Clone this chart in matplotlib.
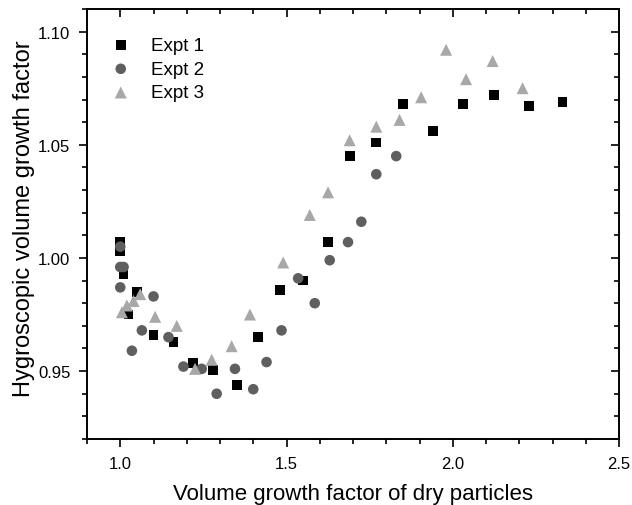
import matplotlib
matplotlib.use('Agg')
import matplotlib.pyplot as plt
from matplotlib.ticker import MultipleLocator, FormatStrFormatter

plt.rcParams['font.family'] = ['Liberation Sans', 'DejaVu Sans']

# Expt 1 (black squares)
x1 = [1.00, 1.00, 1.01, 1.025, 1.05, 1.10, 1.16, 1.22, 1.28, 1.35, 1.415,
      1.48, 1.55, 1.625, 1.69, 1.77, 1.85, 1.94, 2.03, 2.125, 2.23, 2.33]
y1 = [1.007, 1.003, 0.993, 0.975, 0.985, 0.966, 0.963, 0.9535, 0.9505, 0.944, 0.965,
      0.986, 0.990, 1.007, 1.045, 1.051, 1.068, 1.056, 1.068, 1.072, 1.067, 1.069]

# Expt 2 (dark grey circles)
x2 = [1.00, 1.00, 1.01, 1.00, 1.035, 1.065, 1.10, 1.145, 1.19, 1.245, 1.29,
      1.345, 1.40, 1.44, 1.485, 1.535, 1.585, 1.63, 1.685, 1.725, 1.77, 1.83]
y2 = [1.005, 0.996, 0.996, 0.987, 0.959, 0.968, 0.983, 0.965, 0.952, 0.951, 0.940,
      0.951, 0.942, 0.954, 0.968, 0.991, 0.980, 0.999, 1.007, 1.016, 1.037, 1.045]

# Expt 3 (light grey triangles)
x3 = [1.005, 1.02, 1.04, 1.06, 1.105, 1.17, 1.225, 1.275, 1.335, 1.39, 1.49,
      1.57, 1.625, 1.69, 1.77, 1.84, 1.905, 1.98, 2.04, 2.12, 2.21]
y3 = [0.976, 0.979, 0.981, 0.984, 0.974, 0.970, 0.951, 0.955, 0.961, 0.975, 0.998,
      1.019, 1.029, 1.052, 1.058, 1.061, 1.071, 1.092, 1.079, 1.087, 1.075]

fig = plt.figure(figsize=(6.32, 5.06), dpi=100)
ax = fig.add_axes([87/632, 1 - 440/506, (619 - 87)/632, (440 - 10)/506])

ax.scatter(x1, y1, marker='s', s=50, color='black', edgecolors='none', label='Expt 1', zorder=3)
ax.scatter(x2, y2, marker='o', s=58, color='#5f5f5f', edgecolors='none', label='Expt 2', zorder=3)
ax.scatter(x3, y3, marker='^', s=75, color='#a8a8a8', edgecolors='none', label='Expt 3', zorder=3)

ax.set_xlim(0.9, 2.5)
ax.set_ylim(0.92, 1.11)
ax.xaxis.set_major_locator(MultipleLocator(0.5))
ax.xaxis.set_minor_locator(MultipleLocator(0.1))
ax.yaxis.set_major_locator(MultipleLocator(0.05))
ax.yaxis.set_minor_locator(MultipleLocator(0.01))
ax.xaxis.set_major_formatter(FormatStrFormatter('%.1f'))
ax.yaxis.set_major_formatter(FormatStrFormatter('%.2f'))

for sp in ax.spines.values():
    sp.set_linewidth(1.4)

ax.tick_params(which='both', direction='out', width=1.2, labelsize=12, pad=6)
ax.tick_params(which='major', length=6)
ax.tick_params(which='minor', length=3.5)
ax.tick_params(which='both', top=True, right=True)
# mirrored ticks on top/right point into the plot
for t in ax.xaxis.get_major_ticks() + ax.xaxis.get_minor_ticks():
    t.tick2line.set_marker(3)
for t in ax.yaxis.get_major_ticks() + ax.yaxis.get_minor_ticks():
    t.tick2line.set_marker(0)

ax.set_xlabel('Volume growth factor of dry particles', fontsize=16, labelpad=9)
ax.set_ylabel('Hygroscopic volume growth factor', fontsize=17)
ax.yaxis.set_label_coords(-0.098, 0.515)

ax.legend(loc='upper left', bbox_to_anchor=(0.0, 0.97), frameon=False, fontsize=13.5,
          handletextpad=0.6, labelspacing=0.35, borderaxespad=0.4, scatterpoints=1)

fig.savefig('out.png', dpi=100)
